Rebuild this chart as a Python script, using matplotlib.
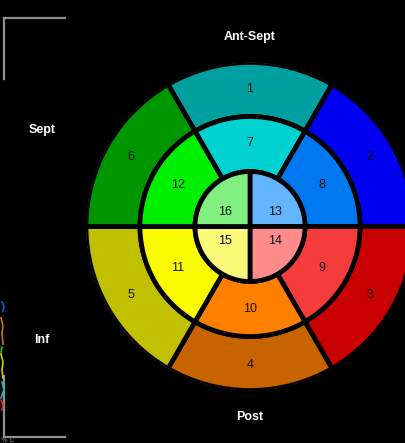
import numpy as np
import matplotlib
matplotlib.use("Agg")
import matplotlib.pyplot as plt

# AHA 16-segment bullseye
outer_ids = [1, 2, 3, 4, 5, 6]
middle_ids = [7, 8, 9, 10, 11, 12]
inner_ids = [13, 14, 15, 16]

outer_colors = ['#00A0A0', '#0000F0', '#C80000', '#C86400', '#C0C000', '#009600']
middle_colors = ['#00D2D2', '#0078F0', '#F53C3C', '#FF8000', '#FAFA00', '#00F000']
inner_colors = ['#64B4FF', '#FF8C8C', '#FAFA78', '#80F080']

wall_labels = ['Ant-Sept', 'Sept', 'Inf', 'Post']

# fragments of the neighbouring panel, cut off at the left edge (pixel coords)
trace_colors = ['#1060E0', '#D07010', '#20C020', '#D0D000', '#20B0C0', '#E02020']
trace_x = [[2, 4, 3], [1, 3, 2, 3], [2, 1], [1, 3, 2, 3], [2, 4, 1], [1, 3, 2]]
trace_y = [[302, 306, 311], [318, 326, 334, 344], [347, 352], [354, 362, 370, 378], [382, 390, 398], [400, 405, 410]]

W, H = 406, 443
cx, cy, R = 250, 226.5, 164
r_mid, r_in = 110, 55

fig = plt.figure(figsize=(W / 100, H / 100), dpi=100, facecolor='black')

ax = fig.add_axes([(cx - R) / W, (H - cy - R) / H, 2 * R / W, 2 * R / H],
                  projection='polar', facecolor='black')
ax.set_ylim(0, R)
ax.set_axis_off()

lw = 3.4
w6 = np.deg2rad(60)
th6 = np.deg2rad(90 - 60 * np.arange(6))
ax.bar(th6, R - r_mid, width=w6, bottom=r_mid, color=outer_colors,
       edgecolor='black', linewidth=lw)
ax.bar(th6, r_mid - r_in, width=w6, bottom=r_in, color=middle_colors,
       edgecolor='black', linewidth=lw)
th4 = np.deg2rad(45 - 90 * np.arange(4))
ax.bar(th4, r_in, width=np.deg2rad(90), bottom=0, color=inner_colors,
       edgecolor='black', linewidth=lw)

tk = dict(ha='center', va='center', fontsize=9, color='#101010', family='Liberation Sans')
for i, t in zip(outer_ids, th6):
    ax.text(t, 138, str(i), **tk)
for i, t in zip(middle_ids, th6):
    ax.text(t, 83, str(i), **tk)
for i, t in zip(inner_ids, np.deg2rad([30, -30, -150, 150])):
    ax.text(t, 29, str(i), **tk)

# overlay in pixel coordinates
ov = fig.add_axes([0, 0, 1, 1], facecolor='none')
ov.set_xlim(0, W)
ov.set_ylim(H, 0)
ov.set_axis_off()

lk = dict(ha='center', va='center', fontsize=9, color='white', fontweight='bold',
          family='Liberation Sans')
ov.text(250, 37, wall_labels[0], **lk)
ov.text(42, 130, wall_labels[1], **lk)
ov.text(42, 340, wall_labels[2], **lk)
ov.text(250, 417, wall_labels[3], **lk)

gray = '#909090'
ov.plot([4, 4, 65], [79, 17.5, 17.5], color=gray, lw=1.6, solid_joinstyle='miter')
ov.plot([4, 4, 65], [376, 437, 437], color=gray, lw=1.6, solid_joinstyle='miter')
for c, xs, ys in zip(trace_colors, trace_x, trace_y):
    ov.plot(xs, ys, color=c, lw=1.2)
ov.text(1, 439.5, '% L', fontsize=5, color=gray, ha='left', va='center')

fig.savefig('out.png', dpi=100, facecolor='black')
